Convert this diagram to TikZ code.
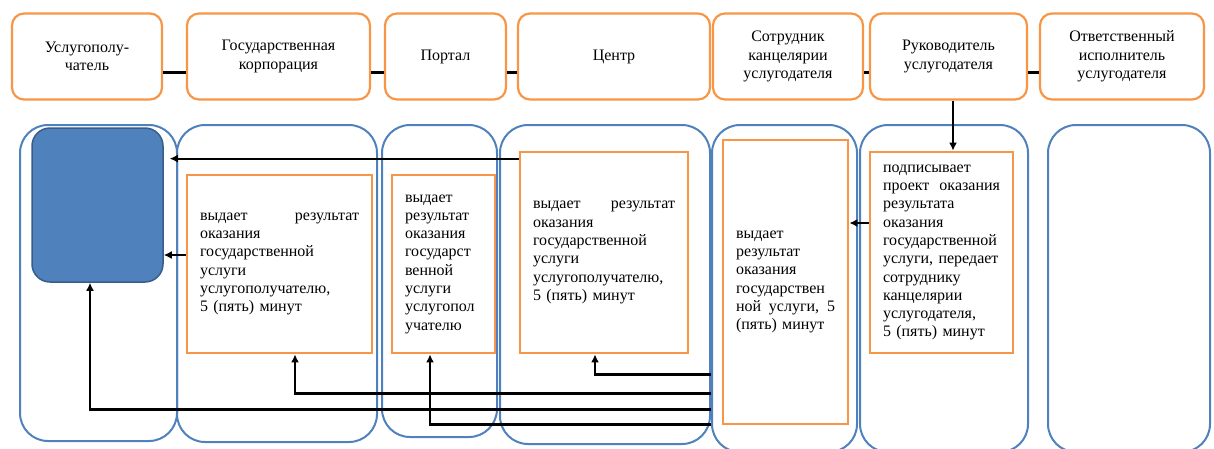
\documentclass[tikz,border=0pt]{standalone}
\usepackage{fontspec}
\setmainfont{Liberation Serif}
\newfontfamily\diagfont{Liberation Serif}
\usetikzlibrary{arrows.meta}
\definecolor{laneblue}{HTML}{4F81BD}
\definecolor{boxorange}{HTML}{F79646}
\definecolor{fillblue}{HTML}{4F81BD}
\definecolor{edgeblue}{HTML}{385D8A}

\begin{document}
\begin{tikzpicture}[
  x=1pt, y=-1pt,
  font=\diagfont\fontsize{16}{18.3}\selectfont,
  >=Latex,
  head/.style={draw=boxorange, line width=2.2pt, rounded corners=12pt,
    align=center, inner sep=0pt, minimum height=86pt},
  lane/.style={draw=laneblue, line width=2pt, rounded corners=28pt, inner sep=0pt},
  act/.style={draw=boxorange, line width=2.8pt, align=left,
    inner xsep=13pt, inner ysep=0pt},
  recipient/.style={draw=edgeblue, fill=fillblue, line width=1.5pt,
    rounded corners=18pt, inner sep=0pt},
  arrow/.style={-{Latex[length=8pt,width=8pt]}, line width=2.2pt},
  link/.style={line width=2.2pt}
]
\useasboundingbox (0,0) rectangle (1214,448);

% swimlanes
\node[lane, minimum width=157pt, minimum height=316pt] (lane1) at (98.5,283) {};
\node[lane, minimum width=200pt, minimum height=317pt] (lane2) at (277,283.5) {};
\node[lane, minimum width=115pt, minimum height=312pt] (lane3) at (439.5,281) {};
\node[lane, minimum width=210pt, minimum height=319pt] (lane4) at (605,284.5) {};
\node[lane, minimum width=145pt, minimum height=327pt] (lane5) at (784.5,288.5) {};
\node[lane, minimum width=168pt, minimum height=327pt] (lane6) at (944,288.5) {};
\node[lane, minimum width=162pt, minimum height=327pt] (lane7) at (1129,288.5) {};

% headers
\node[head, minimum width=150pt] (h1) at (87,56.5) {Услугополу-\\чатель};
\node[head, minimum width=183pt] (h2) at (278.5,56.5) {Государственная\\корпорация};
\node[head, minimum width=121pt] (h3) at (445.5,56.5) {Портал};
\node[head, minimum width=192pt] (h4) at (614,56.5) {Центр};
\node[head, minimum width=150pt] (h5) at (788,56.5) {Сотрудник\\канцелярии\\услугодателя};
\node[head, minimum width=157pt] (h6) at (948.5,56.5) {Руководитель\\услугодателя};
\node[head, minimum width=164pt] (h7) at (1122,56.5) {Ответственный\\исполнитель\\услугодателя};

\foreach \a/\b in {h1/h2,h2/h3,h3/h4,h5/h6,h6/h7}
  \draw[link] ([yshift=-16pt]\a.east) -- ([yshift=-16pt]\b.west);

% steps
\node[recipient, minimum width=131pt, minimum height=154pt] (client) at (97.5,205) {};
\node[act, text width=159pt, minimum height=178pt] (res2) at (279.5,264)
  {выдает\hfill результат\\оказания\\государственной\\услуги\\услугополучателю,\\5 (пять) минут};
\node[act, text width=77pt, minimum height=178pt] (res3) at (443.5,264)
  {выдает\\результат\\оказания\\государст\\венной\\услуги\\услугопол\\учателю};
\node[act, text width=142pt, minimum height=201pt] (res4) at (604,252.5)
  {выдает\hfill результат\\оказания\\государственной\\услуги\\услугополучателю,\\5 (пять) минут};
\node[act, text width=99pt, minimum height=284pt] (res5) at (785.5,282)
  {выдает\\результат\\оказания\\государствен\\ной\hfill услуги,\hfill 5\\(пять) минут};
\node[act, text width=117pt, minimum height=201pt] (res6) at (941.5,252.5)
  {подписывает\\проект\hfill оказания\\результата\\оказания\\государственной\\услуги, передает\\сотруднику\\канцелярии\\услугодателя,\\5 (пять) минут};

% flow
\draw[arrow] ([xshift=4.5pt]h6.south) -- ([xshift=4.5pt]h6.south |- res6.north);
\draw[arrow] ([yshift=29.5pt]res6.west) -- ([yshift=29.5pt]res6.west -| res5.east);
\draw[arrow, shorten >=6pt] ([yshift=-8pt]res4.north west) -- ([yshift=-8pt]res4.north west -| client.east);
\draw[arrow] ([yshift=9pt]res2.west) -- ([yshift=9pt]res2.west -| client.east);
\foreach \dy/\dst/\dx in {51/res4/-9, 32/res2/15.5, 16/client/-7.5, 1/res3/-13.5}
  \draw[arrow] ([yshift=\dy pt]res5.south -| lane5.west) -| ([xshift=\dx pt]\dst.south);

\end{tikzpicture}
\end{document}
